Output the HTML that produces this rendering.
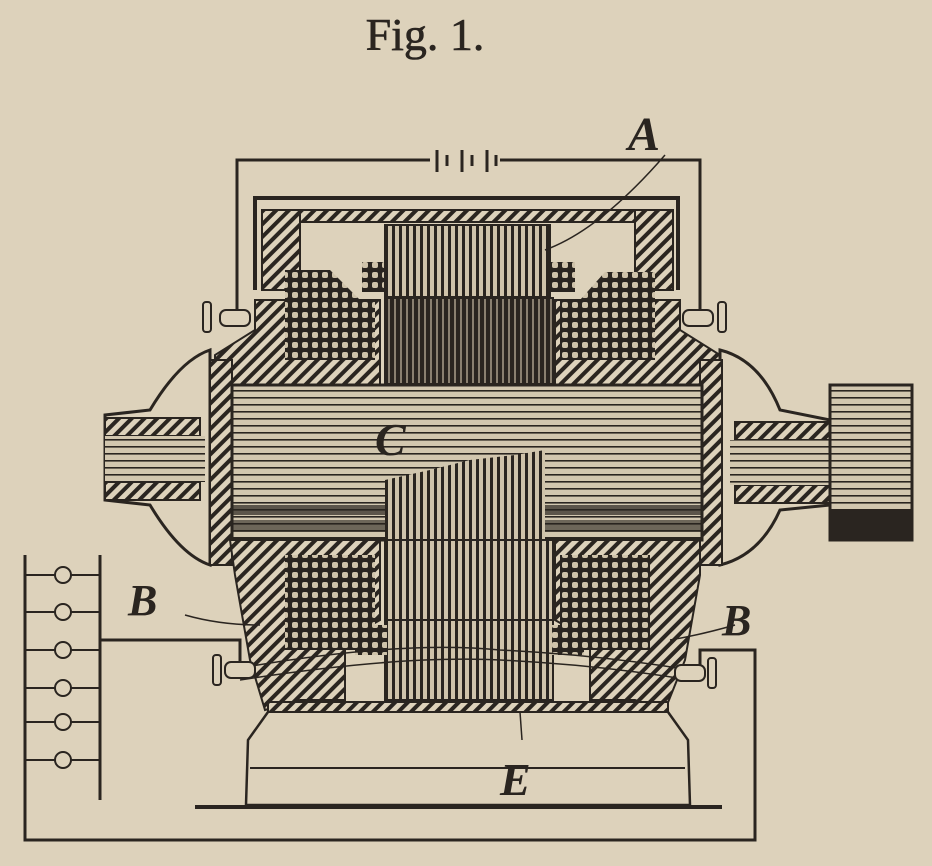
<!DOCTYPE html>
<html><head><style>
html,body{margin:0;padding:0;background:#ddd2bb;}
svg{display:block;}
</style></head><body>
<svg width="932" height="866" viewBox="0 0 932 866" xmlns="http://www.w3.org/2000/svg">
<defs>
<pattern id="hat" width="9" height="9" patternUnits="userSpaceOnUse" patternTransform="rotate(45)">
<rect width="9" height="9" fill="#ddd2bb"/><rect width="4" height="9" fill="#2a2520"/></pattern>
<pattern id="cross" width="10" height="10" patternUnits="userSpaceOnUse">
<rect width="10" height="10" fill="#2a2520"/><rect x="2" y="2" width="6" height="6" rx="2" fill="#cfc3aa"/></pattern>
<pattern id="vl" width="7" height="10" patternUnits="userSpaceOnUse">
<rect width="7" height="10" fill="#cfc3aa"/><rect width="3" height="10" fill="#2a2520"/></pattern>
<pattern id="vd" width="6" height="10" patternUnits="userSpaceOnUse">
<rect width="6" height="10" fill="#8a8070"/><rect width="4" height="10" fill="#2a2520"/></pattern>
<pattern id="hl" width="10" height="7" patternUnits="userSpaceOnUse">
<rect width="10" height="7" fill="#d2c7af"/><rect y="5" width="10" height="1.6" fill="#2a2520"/></pattern>
</defs>
<rect width="932" height="866" fill="#ddd2bb"/>
<text x="425" y="50" text-anchor="middle" font-family="Liberation Serif, serif" font-size="46" fill="#2a2520" stroke="#2a2520" stroke-width="0.6">Fig. 1.</text>
<g stroke="#2a2520" stroke-width="3" fill="none">
<polyline points="237,310 237,160 430,160"/>
<polyline points="500,160 700,160 700,310"/>
<line x1="437" y1="150" x2="437" y2="172"/><line x1="447" y1="155" x2="447" y2="166"/>
<line x1="462" y1="150" x2="462" y2="172"/><line x1="472" y1="155" x2="472" y2="166"/>
<line x1="487" y1="150" x2="487" y2="172"/><line x1="496" y1="155" x2="496" y2="166"/>
<path d="M255,290 L255,198 L678,198 L678,290" stroke-width="4"/>
</g>
<rect x="265" y="210" width="405" height="12" fill="url(#hat)" stroke="#2a2520" stroke-width="2"/>
<path d="M262,210 L300,210 L300,290 L262,290Z" fill="url(#hat)" stroke="#2a2520" stroke-width="2"/>
<path d="M635,210 L673,210 L673,290 L635,290Z" fill="url(#hat)" stroke="#2a2520" stroke-width="2"/>
<path d="M255,300 L380,300 L380,385 L215,385 L215,355 L255,330Z" fill="url(#hat)" stroke="#2a2520" stroke-width="2"/>
<path d="M555,300 L680,300 L680,330 L720,355 L720,385 L555,385Z" fill="url(#hat)" stroke="#2a2520" stroke-width="2"/>
<path d="M285,270 L330,270 L360,300 L375,300 L375,360 L285,360Z" fill="url(#cross)"/>
<path d="M560,300 L580,300 L605,272 L655,272 L655,360 L560,360Z" fill="url(#cross)"/>
<rect x="362" y="262" width="30" height="30" fill="url(#cross)"/>
<rect x="545" y="262" width="30" height="30" fill="url(#cross)"/>
<rect x="385" y="225" width="165" height="72" fill="url(#vl)" stroke="#2a2520" stroke-width="2"/>
<rect x="385" y="298" width="168" height="86" fill="url(#vd)" stroke="#2a2520" stroke-width="2"/>
<path d="M210,350 Q180,360 150,410 L105,415 L105,500 L150,505 Q180,555 210,565Z" fill="#ddd2bb" stroke="#2a2520" stroke-width="3"/>
<path d="M720,350 Q760,360 780,410 L830,420 L830,505 L780,510 Q760,555 720,565Z" fill="#ddd2bb" stroke="#2a2520" stroke-width="3"/>
<rect x="105" y="418" width="95" height="18" fill="url(#hat)" stroke="#2a2520" stroke-width="2"/>
<rect x="105" y="482" width="95" height="18" fill="url(#hat)" stroke="#2a2520" stroke-width="2"/>
<rect x="105" y="436" width="100" height="46" fill="url(#hl)"/>
<rect x="735" y="422" width="95" height="18" fill="url(#hat)" stroke="#2a2520" stroke-width="2"/>
<rect x="735" y="485" width="95" height="18" fill="url(#hat)" stroke="#2a2520" stroke-width="2"/>
<rect x="730" y="440" width="100" height="45" fill="url(#hl)"/>
<rect x="830" y="385" width="82" height="155" fill="url(#hl)" stroke="#2a2520" stroke-width="3"/>
<rect x="830" y="510" width="82" height="30" fill="#2a2520"/>
<rect x="210" y="360" width="22" height="205" fill="url(#hat)" stroke="#2a2520" stroke-width="2"/>
<rect x="700" y="360" width="22" height="205" fill="url(#hat)" stroke="#2a2520" stroke-width="2"/>
<rect x="232" y="385" width="470" height="155" fill="url(#hl)" stroke="#2a2520" stroke-width="3"/>
<rect x="232" y="505" width="470" height="10" fill="#2a2520" opacity="0.7"/>
<rect x="232" y="520" width="470" height="12" fill="#2a2520" opacity="0.6"/>
<path d="M385,480 L430,470 L470,460 L515,455 L545,450 L545,540 L385,540Z" fill="url(#vl)"/>
<path d="M230,540 L380,540 L380,620 L345,640 L345,700 L300,700 L265,710 L250,660 L235,575Z" fill="url(#hat)" stroke="#2a2520" stroke-width="2"/>
<path d="M555,540 L700,540 L700,575 L685,660 L665,710 L635,700 L590,700 L590,640 L555,620Z" fill="url(#hat)" stroke="#2a2520" stroke-width="2"/>
<rect x="285" y="555" width="90" height="95" fill="url(#cross)"/>
<rect x="560" y="555" width="90" height="95" fill="url(#cross)"/>
<rect x="385" y="540" width="168" height="80" fill="url(#vl)" stroke="#2a2520" stroke-width="2"/>
<rect x="385" y="620" width="168" height="80" fill="url(#vl)" stroke="#2a2520" stroke-width="2"/>
<rect x="355" y="625" width="32" height="30" fill="url(#cross)"/>
<rect x="552" y="625" width="32" height="30" fill="url(#cross)"/>
<rect x="268" y="702" width="400" height="10" fill="url(#hat)" stroke="#2a2520" stroke-width="2"/>
<path d="M268,712 L248,740 L246,805 L690,805 L688,740 L668,712" fill="none" stroke="#2a2520" stroke-width="2.5"/>
<line x1="250" y1="768" x2="685" y2="768" stroke="#2a2520" stroke-width="2"/>
<line x1="195" y1="807" x2="722" y2="807" stroke="#2a2520" stroke-width="4"/>
<g stroke="#2a2520" stroke-width="3" fill="none">
<polyline points="100,640 240,640 240,665"/>
<polyline points="700,665 700,650 755,650 755,840 25,840 25,555"/>
<line x1="100" y1="555" x2="100" y2="800"/>
<path d="M240,668 Q400,640 500,650 Q600,655 690,670" stroke-width="1.5"/>
<path d="M240,680 Q400,655 500,660 Q600,665 690,680" stroke-width="1.5"/>
</g>
<g fill="#ddd2bb" stroke="#2a2520" stroke-width="2">
<circle cx="63" cy="575" r="8"/><circle cx="63" cy="612" r="8"/><circle cx="63" cy="650" r="8"/>
<circle cx="63" cy="688" r="8"/><circle cx="63" cy="722" r="8"/><circle cx="63" cy="760" r="8"/>
</g>
<g stroke="#2a2520" stroke-width="2">
<line x1="25" y1="575" x2="55" y2="575"/><line x1="71" y1="575" x2="100" y2="575"/>
<line x1="25" y1="612" x2="55" y2="612"/><line x1="71" y1="612" x2="100" y2="612"/>
<line x1="25" y1="650" x2="55" y2="650"/><line x1="71" y1="650" x2="100" y2="650"/>
<line x1="25" y1="688" x2="55" y2="688"/><line x1="71" y1="688" x2="100" y2="688"/>
<line x1="25" y1="722" x2="55" y2="722"/><line x1="71" y1="722" x2="100" y2="722"/>
<line x1="25" y1="760" x2="55" y2="760"/><line x1="71" y1="760" x2="100" y2="760"/>
</g>
<g fill="#ddd2bb" stroke="#2a2520" stroke-width="2">
<rect x="220" y="310" width="30" height="16" rx="6"/><rect x="203" y="302" width="8" height="30" rx="3"/>
<rect x="683" y="310" width="30" height="16" rx="6"/><rect x="718" y="302" width="8" height="30" rx="3"/>
<rect x="225" y="662" width="30" height="16" rx="6"/><rect x="213" y="655" width="8" height="30" rx="3"/>
<rect x="675" y="665" width="30" height="16" rx="6"/><rect x="708" y="658" width="8" height="30" rx="3"/>
</g>
<g stroke="#2a2520" stroke-width="1.5" fill="none">
<path d="M665,155 Q600,230 545,250"/>
<path d="M185,615 Q220,625 260,625"/>
<path d="M735,625 Q700,635 670,640"/>
<path d="M520,712 L522,740"/>
</g>
<g font-family="Liberation Serif, serif" font-style="italic" font-weight="bold" fill="#2a2520">
<text x="628" y="150" font-size="48">A</text>
<text x="375" y="455" font-size="46">C</text>
<text x="128" y="615" font-size="44">B</text>
<text x="722" y="635" font-size="44">B</text>
<text x="500" y="795" font-size="46">E</text>
</g>
</svg>
</body></html>
